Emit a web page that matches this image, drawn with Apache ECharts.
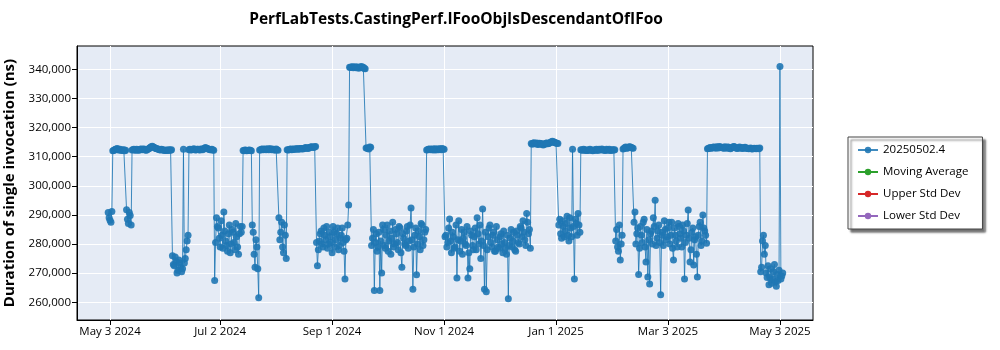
<!DOCTYPE html>
<html>
<head>
<meta charset="utf-8">
<script src="https://cdn.jsdelivr.net/npm/echarts@6/dist/echarts.min.js"></script>
<style>html,body{margin:0;padding:0;background:#fff;}#chart{width:1000px;height:350px;}</style>
</head>
<body>
<div id="chart"></div>
<script>
// ---- DATA ----
const titleText = 'PerfLabTests.CastingPerf.IFooObjIsDescendantOfIFoo';
const yAxisTitle = 'Duration of single invocation (ns)';
const seriesNames = ['20250502.4', 'Moving Average', 'Upper Std Dev', 'Lower Std Dev'];
const firstDate = '2024-05-02'; // runs: one at 00:00 and one at 12:00 each day from this date
const xTickDates = ['2024-05-03', '2024-07-02', '2024-09-01', '2024-11-01', '2025-01-01', '2025-03-03', '2025-05-03'];
const yTickValues = [260000, 270000, 280000, 290000, 300000, 310000, 320000, 330000, 340000];
// first run of each day
const morningValues = [
  290800, 288200, 291200,
  312100, 312500, 312800, 312400, 312200, 312300, 312000,
  291800, 287000, 289800,
  312300, 312500, 312200, 312400, 312300, 312600, 312500, 312400, 312300, 312700, 313200,
  313600, 313200, 312800, 312600, 312400, 312500, 312300, 312100, 312200, 312400, 312200,
  276000, 272500, 274000, 271000, 273500, 270500,
  312500,
  275000, 281000,
  312400, 312300, 312500, 312600, 312400, 312500, 312300, 312500, 312700, 313100, 312800, 312500, 312400, 312300,
  267500, 289000, 285500, 279000, 283000, 291000, 281000, 277500, 286500, 280000, 284000, 278000, 282500, 276500, 286000,
  286000,
  312000, 312200, 312100, 312300, 312000,
  284000, 272000, 279000, 261500,
  312300, 312600, 312500, 312400, 312700, 312600, 312400, 312500, 312300, 312400,
  289000, 284000, 279000, 286500, 275000,
  312300, 312500, 312400, 312600, 312500, 312700, 312500, 312800, 312600, 312900, 313000, 312800, 313200, 313400, 313100, 313500,
  272500, 281000, 284500, 279000, 283000, 286000, 280000, 282500, 277000, 284000, 281500, 285500, 279500, 283000, 280500,
  268000, 282000, 293400,
  340600, 340900, 340700, 340500, 340800, 340600, 341000, 340700, 340200,
  313000, 312600, 313200,
  282000, 264000, 283500, 279000, 264000, 270000, 285000, 278500, 286500, 281000,
  276500, 287500, 280000, 283500, 278000, 285500, 272000, 282000, 279500, 286000,
  281000, 292400, 264500, 283000, 269400, 284500, 278000, 286500, 281500, 285000,
  312400, 312600, 312500, 312300, 312700, 312500, 312400, 312600, 312800, 312500,
  283000, 280500, 288600, 277000, 282500, 279000, 268300, 288000, 281000, 276500,
  284000, 279500, 268300, 271500, 283000, 278000, 285500, 289000, 280000, 275000,
  292000, 264500, 263600, 282500, 286500, 279000, 284000, 277500, 281500, 278500,
  283500, 277000, 280500, 276500, 261200, 282000, 279000, 284000, 277500, 283000,
  280000, 285500, 288000, 281500, 290500, 283500, 278500,
  314300, 314800, 314500, 314200, 314600, 314400, 314000, 314300, 314700, 314500, 314900, 315300, 315000, 314700, 314500,
  288500, 282000, 286000, 284500, 289500, 281000, 285500, 312500, 268000, 287000, 290500, 284000,
  312300, 312500, 312100, 312200, 312400, 312300, 312000, 312200, 312500, 312300,
  312400, 312600, 312300, 312100, 312400, 312500, 312200, 312300, 312400,
  285000, 277500, 274500, 283000,
  312800, 313300, 313000, 313400, 313100, 312900,
  291000, 283500, 269500, 286000, 280500, 288500, 273800, 268700, 266300, 284500, 289000, 295000, 282000, 286500,
  262600, 284000, 288000, 281500, 285500, 280000, 287500, 274500, 283000, 279000,
  286000, 282000, 286500, 268000, 283000, 291700, 273800, 284000, 272800, 282500,
  268700, 286000, 279500, 290000, 284500, 280300,
  312800, 313100, 313000, 313300, 312900, 313200, 313500, 313100, 313000, 313400,
  312900, 313200, 312700, 313100, 313500, 313000, 312800, 313300, 313100, 312900,
  313200, 312800, 312700, 313000, 312600, 312900, 312700, 312800, 313000,
  272000, 283000, 279500, 268500, 266000, 271500, 268000, 273000, 265500, 267500, 341000, 269000
];
// second run of each day
const eveningValues = [
  289000, 287500, 312000,
  312400, 312600, 312300, 312500, 312100, 312400, 312200,
  288500, 290800, 286500,
  312400, 312300, 312500, 312200, 312500, 312400, 312600, 312200, 312500, 312900, 313400,
  313300, 313000, 312700, 312500, 312300, 312400, 312200, 312300, 312100, 312300, 312400,
  273000, 275500, 270000, 274500, 272000, 271500,
  273500,
  278000, 283000,
  312500, 312400, 312600, 312300, 312500, 312400, 312600, 312400, 312900, 312900, 312600, 312400, 312500, 312200,
  280500, 286000, 282000, 288000, 278500, 284500, 279500, 283500, 277000, 285000, 280500, 287000, 279000, 283500, 284000,
  312100,
  312300, 312000, 312200, 312100, 286500,
  276500, 281500, 271500, 312300,
  312500, 312400, 312600, 312500, 312400, 312700, 312500, 312300, 312600, 312200,
  281500, 287500, 277000, 283000, 312400,
  312400, 312600, 312500, 312500, 312700, 312600, 312800, 312700, 312800, 313100, 312900, 313100, 313300, 313200, 313400, 280500,
  278000, 283500, 280000, 285500, 281500, 278500, 284000, 280500, 286000, 279000, 283500, 278000, 282000, 285500, 277500,
  281500, 286500, 340700,
  340800, 340500, 340900, 340700, 340400, 340800, 340600, 340300, 313000,
  312800, 313300, 279500,
  285000, 280500, 277500, 284000, 281000, 286500, 279500, 283000, 277500, 284500,
  282000, 279000, 285000, 280500, 286000, 277000, 283500, 280000, 284500, 278500,
  286500, 281500, 279000, 285500, 280000, 282500, 287000, 279500, 284000, 312300,
  312500, 312400, 312600, 312500, 312300, 312600, 312700, 312400, 312500, 282500,
  279000, 285500, 281000, 284000, 278500, 286500, 281500, 277500, 285000, 282000,
  280000, 286000, 277000, 284500, 279500, 282500, 278000, 283500, 286500, 281000,
  279500, 284000, 278000, 285500, 280500, 283000, 277500, 286000, 279000, 282500,
  280000, 284500, 278500, 283000, 279500, 285000, 281000, 278000, 284500, 280500,
  286000, 282500, 284000, 279500, 287500, 285000, 314500,
  314600, 314400, 314700, 314300, 314500, 314200, 314400, 314600, 314400, 314800, 315100, 315000, 314800, 314600, 286500,
  283500, 288000, 282500, 287000, 283000, 289000, 282500, 286000, 288500, 283000, 286500, 312400,
  312200, 312400, 312300, 312100, 312500, 312200, 312300, 312400, 312100, 312500,
  312300, 312400, 312200, 312500, 312300, 312100, 312400, 312300, 281000,
  279000, 286500, 280000, 312600,
  313100, 312900, 313200, 313300, 313000, 287500,
  280000, 285500, 278500, 283000, 287500, 279000, 285000, 281500, 283500, 280000, 286000, 279500, 284500, 280500,
  283000, 279500, 285000, 282500, 287500, 283000, 278500, 285500, 281000, 287000,
  283500, 279000, 284500, 280500, 287000, 282000, 278000, 285500, 281500, 276500,
  283000, 287500, 281000, 285500, 283000, 312700,
  313000, 312900, 313200, 313100, 313400, 313000, 313300, 313200, 312900, 313100,
  313300, 312900, 313000, 313400, 313200, 312900, 313100, 313000, 312800, 313100,
  313000, 312900, 312800, 312700, 312800, 312800, 312900, 312700, 270500,
  281000, 276500, 270000, 272500, 268500, 266500, 270500, 267000, 269500, 271000, 268000, 270000
];
const xRange = ['2024-04-15', '2025-05-21'];
const yRange = [253900, 348000];

// ---- BUILD ----
const DAY = 86400000;
function ts(s) { const p = s.split('-').map(Number); return Date.UTC(p[0], p[1] - 1, p[2]); }
const start = ts(firstDate);
const points = [];
morningValues.forEach((v, i) => {
  points.push([start + i * DAY, v]);
  if (i < eveningValues.length) points.push([start + i * DAY + DAY / 2, eveningValues[i]]);
});
const MONTHS = ['Jan','Feb','Mar','Apr','May','Jun','Jul','Aug','Sep','Oct','Nov','Dec'];
function fmtDate(t) { const d = new Date(t); return MONTHS[d.getUTCMonth()] + ' ' + d.getUTCDate() + ' ' + d.getUTCFullYear(); }
const xTicks = xTickDates.map(ts);
const colors = ['#1f77b4', '#2ca02c', '#d62728', '#9467bd'];
const FONT = 'Open Sans';

const chart = echarts.init(document.getElementById('chart'), null, { renderer: 'canvas' });
chart.setOption({
  animation: false,
  backgroundColor: '#ffffff',
  title: {
    text: titleText, left: 451, top: 7, textAlign: 'center',
    textStyle: { fontFamily: FONT, fontWeight: 'bold', fontSize: 15.5, color: '#000' }
  },
  grid: { left: 77, right: 187, top: 46, bottom: 30, outerBoundsMode: 'none', containLabel: false,
          show: true, backgroundColor: '#e5ebf5', borderColor: '#000', borderWidth: 1 },
  legend: {
    orient: 'vertical', left: 848, top: 137,
    data: seriesNames,
    backgroundColor: '#fff', borderColor: '#444', borderWidth: 1,
    padding: [6, 14, 6, 9], itemGap: 8, itemWidth: 20, itemHeight: 8,
    shadowColor: 'rgba(0,0,0,0.55)', shadowBlur: 2, shadowOffsetX: 3, shadowOffsetY: 3,
    textStyle: { fontFamily: FONT, fontSize: 11.5, color: '#000', lineHeight: 14 }
  },
  xAxis: {
    type: 'value', min: ts(xRange[0]), max: ts(xRange[1]),
    axisLine: { show: true, onZero: false, lineStyle: { color: '#000' } },
    axisTick: { show: true, customValues: xTicks, length: 5, lineStyle: { color: '#000' } },
    axisLabel: { customValues: xTicks, formatter: fmtDate, fontFamily: FONT, fontSize: 11.5, color: '#000', margin: 6 },
    splitLine: { show: true, lineStyle: { color: '#fff', width: 1 } }
  },
  yAxis: {
    type: 'value', min: yRange[0], max: yRange[1],
    name: yAxisTitle, nameLocation: 'middle', nameGap: 56,
    nameTextStyle: { fontFamily: FONT, fontWeight: 'bold', fontSize: 15, color: '#000' },
    axisLine: { show: true, lineStyle: { color: '#000' } },
    axisTick: { show: true, customValues: yTickValues, length: 5, lineStyle: { color: '#000' } },
    axisLabel: { customValues: yTickValues, formatter: v => v.toLocaleString('en-US'), fontFamily: FONT, fontSize: 11.5, color: '#000', margin: 6 },
    splitLine: { show: true, lineStyle: { color: '#fff', width: 1 } }
  },
  series: [
    {
      name: seriesNames[0], type: 'line', data: points,
      symbol: 'circle', symbolSize: 7, showAllSymbol: true,
      itemStyle: { color: colors[0], opacity: 0.9 },
      lineStyle: { color: colors[0], width: 1, opacity: 0.85 }
    },
    { name: seriesNames[1], type: 'line', data: [], symbol: 'circle', itemStyle: { color: colors[1] }, lineStyle: { color: colors[1], width: 1 } },
    { name: seriesNames[2], type: 'line', data: [], symbol: 'circle', itemStyle: { color: colors[2] }, lineStyle: { color: colors[2], width: 1 } },
    { name: seriesNames[3], type: 'line', data: [], symbol: 'circle', itemStyle: { color: colors[3] }, lineStyle: { color: colors[3], width: 1 } }
  ]
});
</script>
</body>
</html>
